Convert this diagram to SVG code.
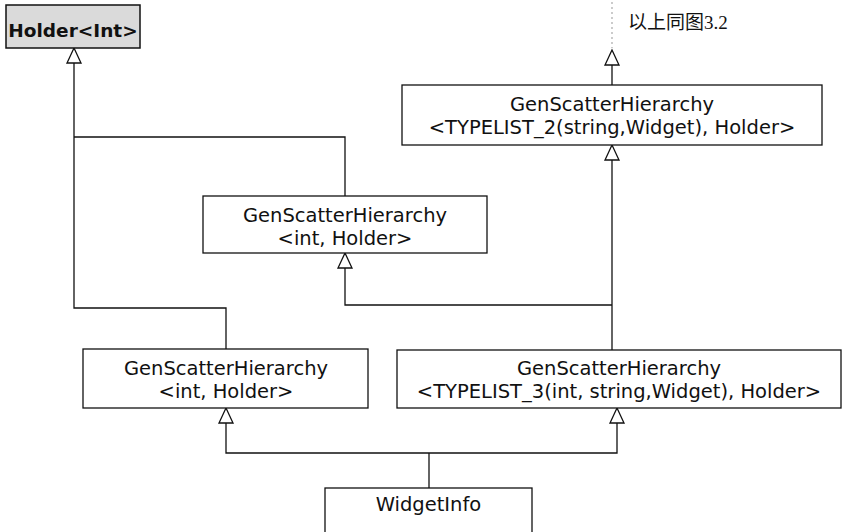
<svg xmlns="http://www.w3.org/2000/svg" width="845" height="532" viewBox="0 0 845 532">
<style>
.box{fill:#fff;stroke:#111;stroke-width:1.3}
.t{font-family:"DejaVu Sans",Verdana,sans-serif;font-size:19.5px;fill:#111;text-anchor:middle}
.ln{fill:none;stroke:#111;stroke-width:1.3}
.tri{fill:#fff;stroke:#111;stroke-width:1.3;stroke-linejoin:miter}
</style>
<rect width="845" height="532" fill="#fff"/>
<g id="connectors">
  <line x1="612" y1="2" x2="612" y2="48" stroke="#aaa" stroke-width="1.2" stroke-dasharray="2,3"/>
  <path class="tri" d="M612,50 L605,65 L619,65 Z"/>
  <line class="ln" x1="612" y1="65" x2="612" y2="85"/>
  <path class="tri" d="M74,48 L67,63 L81,63 Z"/>
  <path class="ln" d="M74,63 V308 H226 V349"/>
  <path class="ln" d="M74,137 H345 V196"/>
  <path class="tri" d="M612,145 L605,160 L619,160 Z"/>
  <path class="ln" d="M612,160 V350"/>
  <path class="ln" d="M612,305 H345 V268"/>
  <path class="tri" d="M345,253 L338,268 L352,268 Z"/>
  <path class="tri" d="M226,408 L219,423 L233,423 Z"/>
  <path class="tri" d="M617,408 L610,423 L624,423 Z"/>
  <path class="ln" d="M226,423 V453 H617 V423"/>
  <path class="ln" d="M429,453 V488"/>
</g>
<g id="holder-int">
  <rect x="6" y="5" width="134" height="43" fill="#dadada" stroke="#111" stroke-width="1.5"/>
  <text x="73" y="37" font-family="DejaVu Sans,Verdana,sans-serif" font-size="18.5" font-weight="bold" text-anchor="middle" fill="#111">Holder&lt;Int&gt;</text>
</g>
<g id="note">
  <text x="628" y="29" font-family="'Liberation Serif','Noto Sans CJK SC',serif" font-size="19" fill="#111">以上同图3.2</text>
</g>
<g id="gsh-typelist2">
  <rect class="box" x="402" y="85" width="420" height="60"/>
  <text class="t" x="612" y="111">GenScatterHierarchy</text>
  <text class="t" x="612" y="134">&lt;TYPELIST_2(string,Widget), Holder&gt;</text>
</g>
<g id="gsh-int-mid">
  <rect class="box" x="203" y="196" width="284" height="57"/>
  <text class="t" x="345" y="222">GenScatterHierarchy</text>
  <text class="t" x="345" y="245">&lt;int, Holder&gt;</text>
</g>
<g id="gsh-int-bottom">
  <rect class="box" x="83" y="349" width="285" height="59"/>
  <text class="t" x="226" y="375">GenScatterHierarchy</text>
  <text class="t" x="226" y="398">&lt;int, Holder&gt;</text>
</g>
<g id="gsh-typelist3">
  <rect class="box" x="397" y="350" width="444" height="58"/>
  <text class="t" x="619" y="375">GenScatterHierarchy</text>
  <text class="t" x="619" y="398">&lt;TYPELIST_3(int, string,Widget), Holder&gt;</text>
</g>
<g id="widgetinfo">
  <rect class="box" x="325" y="488" width="207" height="50"/>
  <text class="t" x="428.5" y="511">WidgetInfo</text>
</g>
</svg>
